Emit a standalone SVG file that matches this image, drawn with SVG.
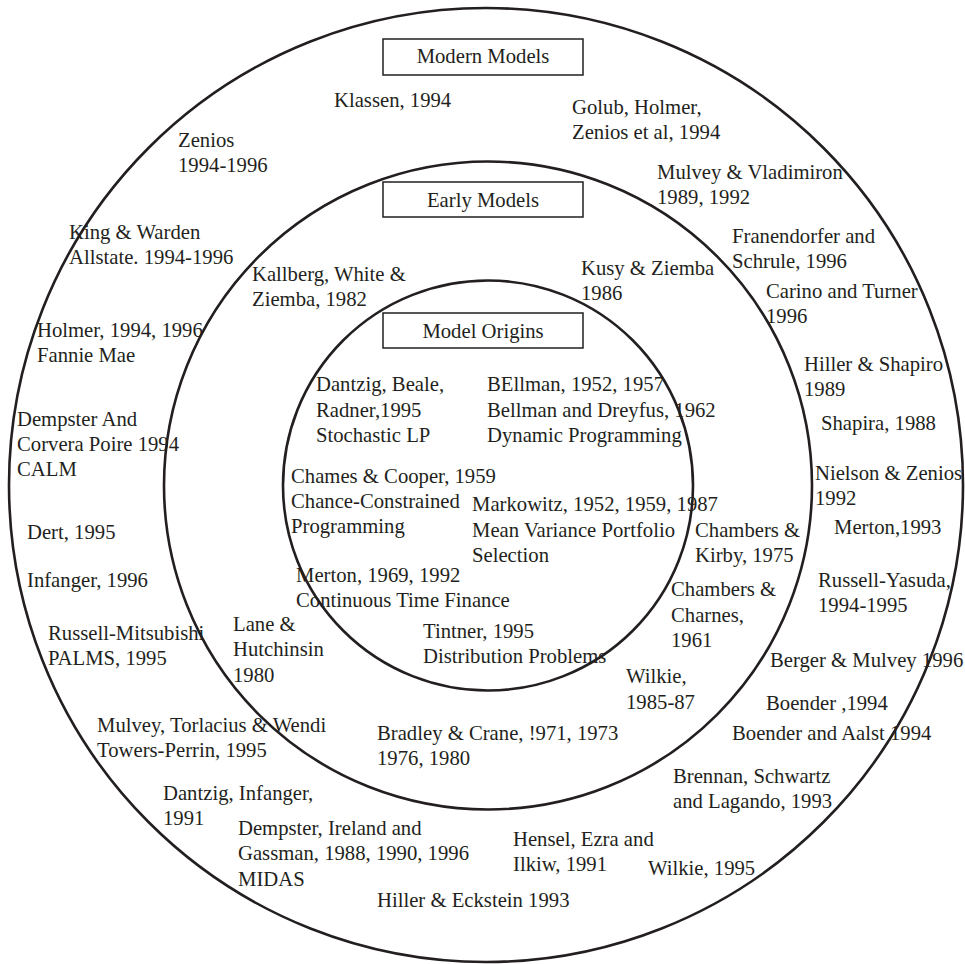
<svg xmlns="http://www.w3.org/2000/svg" width="965" height="964" viewBox="0 0 965 964">
<style>
text{font-family:"Liberation Serif","Times New Roman",serif;font-size:20.7px;fill:#231f20}
.ring{fill:none;stroke:#231f20;stroke-width:2.6}
.box{fill:#fff;stroke:#231f20;stroke-width:1.5}
.c{text-anchor:middle}
</style>
<rect width="965" height="964" fill="#fff"/>
<g id="rings">
<circle class="ring" cx="486" cy="485" r="477"/>
<circle class="ring" cx="488" cy="485.5" r="324"/>
<circle class="ring" cx="488" cy="485.5" r="205"/>
</g>
<g id="modern-models"><rect class="box" x="383" y="39" width="200" height="36"/><text class="c" x="483" y="63">Modern Models</text></g>
<g id="early-models"><rect class="box" x="383" y="182" width="200" height="35"/><text class="c" x="483" y="207">Early Models</text></g>
<g id="model-origins"><rect class="box" x="383" y="313" width="200" height="35"/><text class="c" x="483" y="338">Model Origins</text></g>

<g id="klassen"><text x="334" y="107">Klassen, 1994</text></g>
<g id="zenios"><text x="178" y="147">Zenios</text><text x="178" y="172">1994-1996</text></g>
<g id="golub"><text x="572" y="114">Golub, Holmer,</text><text x="572" y="139">Zenios et al, 1994</text></g>
<g id="mulvey-vlad"><text x="657" y="179">Mulvey &amp; Vladimiron</text><text x="657" y="204">1989, 1992</text></g>
<g id="king"><text x="69" y="239">King &amp; Warden</text><text x="69" y="264">Allstate. 1994-1996</text></g>
<g id="franendorfer"><text x="732" y="243">Franendorfer and</text><text x="732" y="268">Schrule, 1996</text></g>
<g id="kallberg"><text x="252" y="281">Kallberg, White &amp;</text><text x="252" y="306">Ziemba, 1982</text></g>
<g id="kusy"><text x="581" y="275">Kusy &amp; Ziemba</text><text x="581" y="300">1986</text></g>
<g id="carino"><text x="766" y="298">Carino and Turner</text><text x="766" y="323">1996</text></g>
<g id="holmer"><text x="37" y="337">Holmer, 1994, 1996</text><text x="37" y="362">Fannie Mae</text></g>
<g id="hiller-shapiro"><text x="804" y="371">Hiller &amp; Shapiro</text><text x="804" y="396">1989</text></g>
<g id="dantzig-beale"><text x="316" y="391">Dantzig, Beale,</text><text x="316" y="417">Radner,1995</text><text x="316" y="442">Stochastic LP</text></g>
<g id="bellman"><text x="487" y="391">BEllman, 1952, 1957</text><text x="487" y="417">Bellman and Dreyfus, 1962</text><text x="487" y="442">Dynamic Programming</text></g>
<g id="dempster-calm"><text x="17" y="426">Dempster And</text><text x="17" y="451">Corvera Poire 1994</text><text x="17" y="476">CALM</text></g>
<g id="shapira"><text x="821" y="430">Shapira, 1988</text></g>
<g id="nielson"><text x="815" y="480">Nielson &amp; Zenios</text><text x="815" y="505">1992</text></g>
<g id="chames"><text x="291" y="483">Chames &amp; Cooper, 1959</text><text x="291" y="508">Chance-Constrained</text><text x="291" y="533">Programming</text></g>
<g id="markowitz"><text x="472" y="511">Markowitz, 1952, 1959, 1987</text><text x="472" y="537">Mean Variance Portfolio</text><text x="472" y="562">Selection</text></g>
<g id="merton1993"><text x="834" y="534">Merton,1993</text></g>
<g id="chambers-kirby"><text x="695" y="537">Chambers &amp;</text><text x="695" y="562">Kirby, 1975</text></g>
<g id="dert"><text x="27" y="539">Dert, 1995</text></g>
<g id="merton1969"><text x="296" y="582">Merton, 1969, 1992</text><text x="296" y="607">Continuous Time Finance</text></g>
<g id="infanger"><text x="27" y="587">Infanger, 1996</text></g>
<g id="russell-yasuda"><text x="818" y="587">Russell-Yasuda,</text><text x="818" y="612">1994-1995</text></g>
<g id="chambers-charnes"><text x="671" y="596">Chambers &amp;</text><text x="671" y="622">Charnes,</text><text x="671" y="647">1961</text></g>
<g id="lane"><text x="233" y="631">Lane &amp;</text><text x="233" y="656">Hutchinsin</text><text x="233" y="682">1980</text></g>
<g id="tintner"><text x="423" y="638">Tintner, 1995</text><text x="423" y="663">Distribution Problems</text></g>
<g id="russell-mitsubishi"><text x="48" y="640">Russell-Mitsubishi</text><text x="48" y="665">PALMS, 1995</text></g>
<g id="berger"><text x="770" y="667">Berger &amp; Mulvey 1996</text></g>
<g id="wilkie8587"><text x="626" y="683">Wilkie,</text><text x="626" y="709">1985-87</text></g>
<g id="boender"><text x="766" y="710">Boender ,1994</text></g>
<g id="mulvey-torlacius"><text x="97" y="732">Mulvey, Torlacius &amp; Wendi</text><text x="97" y="757">Towers-Perrin, 1995</text></g>
<g id="bradley"><text x="377" y="740">Bradley &amp; Crane, !971, 1973</text><text x="377" y="765">1976, 1980</text></g>
<g id="boender-aalst"><text x="732" y="740">Boender and Aalst 1994</text></g>
<g id="brennan"><text x="673" y="783">Brennan, Schwartz</text><text x="673" y="808">and Lagando, 1993</text></g>
<g id="dantzig-infanger"><text x="163" y="800">Dantzig, Infanger,</text><text x="163" y="825">1991</text></g>
<g id="dempster-midas"><text x="238" y="835">Dempster, Ireland and</text><text x="238" y="860">Gassman, 1988, 1990, 1996</text><text x="238" y="886">MIDAS</text></g>
<g id="hensel"><text x="513" y="846">Hensel, Ezra and</text><text x="513" y="871">Ilkiw, 1991</text></g>
<g id="wilkie1995"><text x="648" y="875">Wilkie, 1995</text></g>
<g id="hiller-eckstein"><text x="377" y="907">Hiller &amp; Eckstein 1993</text></g>
</svg>
